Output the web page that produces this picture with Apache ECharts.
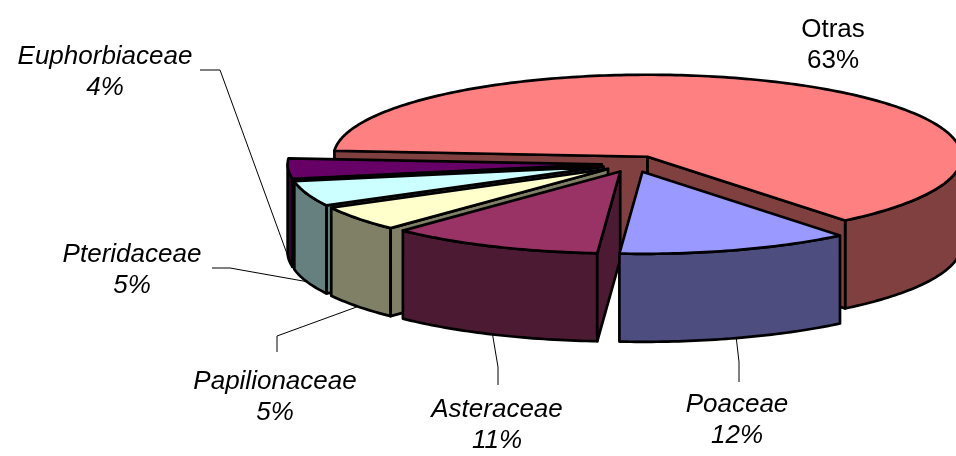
<!DOCTYPE html>
<html>
<head>
<meta charset="utf-8">
<script src="https://cdn.jsdelivr.net/npm/echarts@6/dist/echarts.min.js"></script>
<style>
  html, body { margin: 0; padding: 0; background: #ffffff; }
  #chart { width: 956px; height: 456px; }
</style>
</head>
<body>
<div id="chart"></div>
<script>
// Families and their share of species (%)
const families = ['Otras', 'Poaceae', 'Asteraceae', 'Papilionaceae', 'Pteridaceae', 'Euphorbiaceae'];
const shares = [63, 12, 11, 5, 5, 4];

// Face colours: top surface and the darker side walls
const topColors = ['#FF8080', '#9999FF', '#993366', '#FFFFCC', '#CCFFFF', '#660066'];
const sideColors = ['#804040', '#4D4D80', '#4D1A33', '#808066', '#668080', '#330033'];

// Tilted pie geometry (angles clockwise from the back, in degrees)
const PIE = { cx: 633, cy: 164, rx: 314, ry: 82, depth: 88, explode: 0.1, startDeg: 274.2 };

// Label placement: centre of the two-line text block, and leader path from the text
const LABELS = {
  'Otras':         { x: 833, y: 45,  italic: false, leader: null },
  'Poaceae':       { x: 737, y: 420, italic: true,  leader: [[739, 382], [739, 362]] },
  'Asteraceae':    { x: 497, y: 425, italic: true,  leader: [[498, 385], [498, 367]] },
  'Papilionaceae': { x: 275, y: 397, italic: true,  leader: [[277, 352], [277, 336]] },
  'Pteridaceae':   { x: 132, y: 270, italic: true,  leader: [[212, 268], [230, 268]] },
  'Euphorbiaceae': { x: 105, y: 72,  italic: true,  leader: [[200, 70], [220, 70]] }
};

const rad = d => d * Math.PI / 180;
const total = shares.reduce((a, b) => a + b, 0);
const spans = shares.map(v => v / total * 360);
const starts = [];
let acc = PIE.startDeg;
spans.forEach(sp => { starts.push(acc); acc += sp; });
const mids = starts.map((s, i) => s + spans[i] / 2);

// back-to-front drawing order of the side faces
const order = mids.map((m, i) => ({ i, d: -Math.cos(rad(m)) }))
  .sort((p, q) => p.d - q.d).map(o => o.i);
const rank = [];
order.forEach((idx, r) => { rank[idx] = r; });

function rim(c, deg, dz) {
  const r = rad(deg);
  return [c[0] + PIE.rx * Math.sin(r), c[1] - PIE.ry * Math.cos(r) + (dz || 0)];
}
function arc(c, d0, d1, dz) {
  const n = Math.max(2, Math.ceil(Math.abs(d1 - d0)));
  const pts = [];
  for (let k = 0; k <= n; k++) pts.push(rim(c, d0 + (d1 - d0) * k / n, dz));
  return pts;
}
function face(points, fill, z2) {
  return {
    type: 'polygon',
    shape: { points },
    style: { fill, stroke: '#000000', lineWidth: 2.7, lineJoin: 'round' },
    z2
  };
}

function renderItem(params, api) {
  const i = params.dataIndex;
  const v = api.value(0);
  const span = v / total * 360;
  const s = starts[i];
  const t = s + span;
  const m = s + span / 2;
  const h = PIE.depth;
  const c = [
    PIE.cx + PIE.explode * PIE.rx * Math.sin(rad(m)),
    PIE.cy - PIE.explode * PIE.ry * Math.cos(rad(m))
  ];
  const children = [];
  const zs = 10 + rank[i];

  // outer wall, only the part facing the viewer
  for (let k = 0; k < 3; k++) {
    const u = Math.max(s, 90 + 360 * k);
    const w = Math.min(t, 270 + 360 * k);
    if (w > u) {
      children.push(face(arc(c, u, w, 0).concat(arc(c, w, u, h)), sideColors[i], zs));
    }
  }
  // radial faces
  if (Math.sin(rad(s)) < -1e-6) {
    children.push(face([c, rim(c, s), rim(c, s, h), [c[0], c[1] + h]], sideColors[i], zs));
  }
  if (Math.sin(rad(t)) > 1e-6) {
    children.push(face([c, rim(c, t), rim(c, t, h), [c[0], c[1] + h]], sideColors[i], zs));
  }
  // top surface
  children.push(face([c].concat(arc(c, s, t, 0)), topColors[i], 100));

  // label and leader
  const name = families[i];
  const lab = LABELS[name];
  if (lab.leader) {
    const anchor = rim(c, m, h);
    children.push({
      type: 'polyline',
      shape: { points: lab.leader.concat([anchor]) },
      style: { stroke: '#000000', lineWidth: 1, fill: null },
      z2: 150
    });
  }
  children.push({
    type: 'text',
    x: lab.x,
    y: lab.y,
    style: {
      text: name + '\n' + Math.round(v / total * 100) + '%',
      fontFamily: '"Liberation Sans", Arial, sans-serif',
      fontSize: 26,
      fontStyle: lab.italic ? 'italic' : 'normal',
      lineHeight: 31,
      fill: '#000000',
      align: 'center',
      verticalAlign: 'middle'
    },
    z2: 200
  });

  return { type: 'group', children };
}

const chart = echarts.init(document.getElementById('chart'), null, { renderer: 'canvas' });
chart.setOption({
  animation: false,
  backgroundColor: '#ffffff',
  series: [{
    type: 'custom',
    coordinateSystem: 'none',
    silent: true,
    renderItem,
    data: shares.map((v, i) => ({ name: families[i], value: [v] }))
  }]
});
</script>
</body>
</html>
